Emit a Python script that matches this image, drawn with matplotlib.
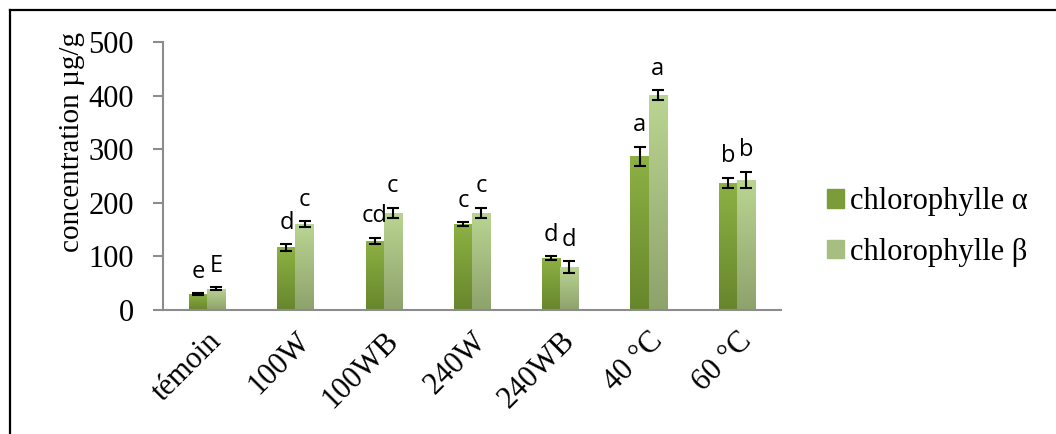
import matplotlib.pyplot as plt
import numpy as np
from matplotlib.colors import LinearSegmentedColormap
from matplotlib.lines import Line2D

# données
categories = ['témoin', '100W', '100WB', '240W', '240WB', '40 °C', '60 °C']
chl_a = [30, 117, 129, 160, 97, 287, 237]
chl_a_err = [2, 6, 6, 4, 4, 18, 10]
chl_b = [40, 160, 181, 181, 80, 401, 243]
chl_b_err = [3, 6, 10, 10, 11, 9, 15]
letters_a = ['e', 'd', 'cd', 'c', 'd', 'a', 'b']
letters_b = ['E', 'c', 'c', 'c', 'd', 'a', 'b']

serif = 'Liberation Serif'
sans = 'Open Sans'

fig = plt.figure(figsize=(10.56, 4.34), dpi=100)
ax = fig.add_axes([0.1544, 0.2857, 0.5852, 0.6175])

x = np.arange(len(categories))
width = 0.205

cmap_a = LinearSegmentedColormap.from_list('a', ['#67862c', '#8db144'])
cmap_b = LinearSegmentedColormap.from_list('b', ['#8ea26c', '#bad592'])
grad = np.linspace(0, 1, 256).reshape(-1, 1)


def gradient_bars(xpos, values, cmap):
    bars = ax.bar(xpos, values, width, color='none', edgecolor='none', zorder=2)
    for bar in bars:
        x0 = bar.get_x()
        h = bar.get_height()
        im = ax.imshow(grad, cmap=cmap, origin='lower', aspect='auto',
                       extent=(x0, x0 + width, 0, h), zorder=2)
        im.set_clip_path(bar)
    return bars


gradient_bars(x - width / 2, chl_a, cmap_a)
gradient_bars(x + width / 2, chl_b, cmap_b)

ax.errorbar(x - width / 2, chl_a, yerr=chl_a_err, fmt='none', ecolor='black',
            elinewidth=1.5, capsize=4.5, capthick=1.5, zorder=3)
ax.errorbar(x + width / 2, chl_b, yerr=chl_b_err, fmt='none', ecolor='black',
            elinewidth=1.5, capsize=4.5, capthick=1.5, zorder=3)

# lettres de signification
for i in range(len(categories)):
    ax.annotate(letters_a[i], (x[i] - width / 2, chl_a[i] + chl_a_err[i]),
                xytext=(0, 11), textcoords='offset points', ha='center',
                va='baseline', fontsize=17, family=sans)
    ax.annotate(letters_b[i], (x[i] + width / 2, chl_b[i] + chl_b_err[i]),
                xytext=(0, 11), textcoords='offset points', ha='center',
                va='baseline', fontsize=17, family=sans)

ax.set_xlim(-0.5, len(categories) - 0.5)
ax.set_ylim(0, 500)
ax.set_yticks([0, 100, 200, 300, 400, 500])
ax.set_xticks(x)
ax.set_xticklabels(categories, rotation=45, ha='right', va='top',
                   rotation_mode='anchor', fontsize=22, family=serif)
for lab in ax.get_yticklabels():
    lab.set_family(serif)
    lab.set_fontsize(22)

for s in ['top', 'right']:
    ax.spines[s].set_visible(False)
for s in ['left', 'bottom']:
    ax.spines[s].set_color('#8c8c8c')
    ax.spines[s].set_linewidth(1.5)
ax.tick_params(axis='y', length=7, width=1.5, color='#8c8c8c', pad=14)
ax.tick_params(axis='x', length=0, pad=12)

fig.text(72 / 1056, 1 - 142 / 434, 'concentration µg/g', rotation=90,
         ha='center', va='center', fontsize=21, family=serif)

# légende
handles = [plt.Rectangle((0, 0), 1, 1, color='#7a9c39'),
           plt.Rectangle((0, 0), 1, 1, color='#a6bf80')]
fig.legend(handles, ['chlorophylle α', 'chlorophylle β'], loc='center left',
           bbox_to_anchor=(0.757, 0.477), frameon=False, handlelength=0.55,
           handleheight=0.55, handletextpad=0.2, labelspacing=0.7,
           prop={'family': serif, 'size': 22})

# cadre
fig.add_artist(Line2D([10 / 1056, 10 / 1056], [0, 1 - 10 / 434], color='black',
                      linewidth=1.6, transform=fig.transFigure))
fig.add_artist(Line2D([10 / 1056, 1], [1 - 10 / 434, 1 - 10 / 434], color='black',
                      linewidth=1.6, transform=fig.transFigure))

fig.savefig('out.png', dpi=100)
